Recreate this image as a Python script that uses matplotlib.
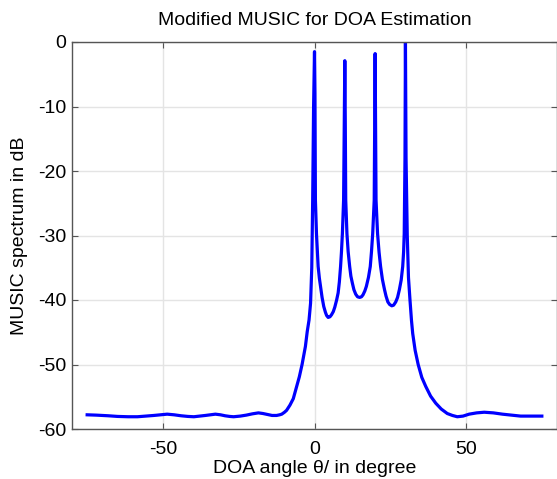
import matplotlib.pyplot as plt

# spectrum (angle in degree, level in dB)
angle = [-75, -72, -68, -65, -61.5, -58.4, -55.5, -53, -50.8, -48.6, -46.3, -44,
         -41.8, -39.8, -37.8, -36, -34.3, -32.7, -31.0, -29.5, -28.0, -26.7,
         -24.5, -22.5, -20.5, -18.5, -17.0, -15.5, -14.0, -12.5, -11.5, -10.8,
         -9.9, -9.2, -8.1, -7.0, -5.9, -5.0, -4.1, -3.5, -3.0, -2.4, -1.8, -1.3,
         -0.9, -0.6, -0.3, 0.0, 0.15, 0.3,
         0.65, 1.2, 1.6, 2.0, 2.5, 3.05, 3.6, 4.0, 4.5, 5.1, 5.6, 6.2, 6.7, 7.3,
         7.8, 8.2, 8.6, 8.9, 9.2, 9.6, 9.85, 10.0, 10.15, 10.3,
         10.7, 11.1, 11.6, 12.0, 12.5, 13.0, 13.6, 14.2, 14.9, 15.5, 16.0, 16.6,
         17.1, 17.8, 18.4, 18.8, 19.2, 19.7, 19.85, 20.0, 20.15, 20.3,
         20.8, 21.3, 21.8, 22.4, 23.1, 23.6, 24.2, 24.8, 25.5, 26.1, 26.8, 27.4,
         28.0, 28.6, 29.1, 29.4, 29.6, 29.85, 30.0, 30.2,
         30.6, 31.0, 31.5, 32.0, 32.4, 33.2, 34.2, 35.4, 36.7, 38.3, 40.0, 41.8,
         43.8, 45.5, 47.1, 49, 51, 53.5, 56, 59, 62, 65, 68, 71.5, 75]
spectrum = [-57.8, -57.85, -57.95, -58.05, -58.1, -58.1, -58.0, -57.9, -57.8,
            -57.7, -57.8, -57.95, -58.05, -58.1, -58.0, -57.9, -57.8, -57.7,
            -57.8, -57.95, -58.05, -58.1, -58.0, -57.85, -57.65, -57.5, -57.6,
            -57.75, -57.9, -57.9, -57.8, -57.7, -57.4, -57.1, -56.3, -55.3,
            -53.4, -51.9, -50.0, -48.5, -47.2, -44.9, -43.1, -40.5,
            -35.0, -24.5, -10.0, -1.5, -8.0, -24.5,
            -29.7, -34.8, -36.6, -37.9, -39.6, -41.0, -41.9, -42.4, -42.7, -42.6,
            -42.3, -41.8, -41.1, -40.0, -38.9, -37.2, -34.8, -32.5, -29.7, -24.5,
            -12.0, -2.9, -12.0, -24.5,
            -29.7, -32.5, -34.8, -36.3, -37.4, -38.4, -39.1, -39.5, -39.6, -39.5,
            -39.2, -38.6, -37.9, -36.5, -34.8, -32.5, -29.7, -24.5, -12.0, -1.8,
            -12.0, -24.5,
            -29.7, -32.6, -34.8, -36.8, -38.4, -39.4, -40.3, -40.7, -40.9, -40.8,
            -40.3, -39.6, -38.4, -36.9, -34.8, -32.5, -29.7, -18.0, 0.0, -18.0,
            -30.0, -36.5, -40.0, -43.2, -45.2, -47.8, -50.0, -52.0, -53.4, -54.9,
            -56.0, -56.9, -57.6, -57.9, -58.1, -58.0, -57.7, -57.5, -57.4, -57.5,
            -57.7, -57.85, -58.0, -58.0, -58.0]

xticks = [-50, 0, 50]
yticks = [-60, -50, -40, -30, -20, -10, 0]

plt.rcParams['font.family'] = ['Liberation Sans', 'DejaVu Sans']
plt.rcParams['axes.unicode_minus'] = False

fig = plt.figure(figsize=(5.57, 4.79), dpi=100)
ax = fig.add_axes([72 / 557, 1 - 429 / 479, 1 - 72 / 557, 387 / 479])

ax.plot(angle, spectrum, color='#0000ff', linewidth=2.3, solid_joinstyle='round')

ax.set_xlim(-80, 80)
ax.set_ylim(-60, 0)
ax.set_xticks(xticks)
ax.set_yticks(yticks)
ax.grid(True, color='#e4e4e4', linewidth=1.0)
ax.set_axisbelow(True)

for s in ax.spines.values():
    s.set_color('#555555')
    s.set_linewidth(1.0)
ax.tick_params(direction='in', top=True, right=True, length=4, color='#555555',
               labelsize=14)
ax.tick_params(axis='x', pad=9)
ax.tick_params(axis='y', pad=4)

ax.set_title('Modified MUSIC for DOA Estimation', fontsize=14, pad=12)
ax.set_xlabel('DOA angle θ/ in degree', fontsize=14, labelpad=1)
ax.set_ylabel('MUSIC spectrum in dB', fontsize=14, labelpad=7)

fig.savefig('out.png', dpi=100)
